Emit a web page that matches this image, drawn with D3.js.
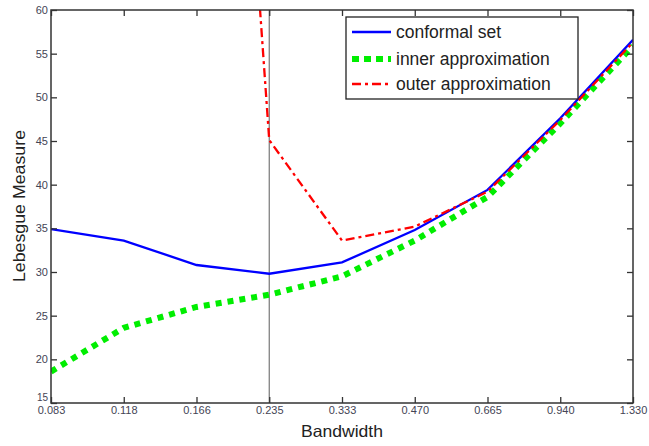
<!DOCTYPE html>
<html><head><meta charset="utf-8">
<script src="https://cdn.jsdelivr.net/npm/d3@7"></script>
<style>body{margin:0;background:#fff}svg{display:block}</style>
</head><body>
<svg id="c" width="649" height="446"></svg>
<script>
const bandwidth = ["0.083","0.118","0.166","0.235","0.333","0.470","0.665","0.940","1.330"];
const conformalSet = [34.9, 33.6, 30.8, 29.8, 31.1, 34.8, 39.4, 47.6, 56.6];
const innerApprox = [18.6, 23.6, 26.0, 27.4, 29.5, 33.6, 38.6, 47.0, 55.9];
const outerApprox = [null, null, 163, 45.1, 33.6, 35.2, 39.2, 47.4, 56.3];
const yTicks = [15,20,25,30,35,40,45,50,55,60];
const markedBandwidth = "0.235";
const seriesNames = ["conformal set","inner approximation","outer approximation"];

const svg = d3.select("#c");
const m = {l:51, r:16, t:10, b:43};
const W = 649, H = 446;
const x = d3.scalePoint().domain(bandwidth).range([m.l, W - m.r]);
const y = d3.scaleLinear().domain([15, 60]).range([H - m.b, m.t]);

svg.append("defs").append("clipPath").attr("id","clip")
  .append("rect").attr("x", m.l).attr("y", m.t)
  .attr("width", W - m.r - m.l).attr("height", H - m.b - m.t);

const font = "Arial, 'Liberation Sans', sans-serif";
const axisColor = "#333";
const tickLen = 6;

// vertical marker line
svg.append("line").attr("x1", x(markedBandwidth)).attr("x2", x(markedBandwidth))
  .attr("y1", m.t).attr("y2", H - m.b).attr("stroke", "#777").attr("stroke-width", 1.2);

const g = svg.append("g").attr("clip-path","url(#clip)");
const line = d3.line().defined(d => d[1] != null)
  .x(d => x(d[0])).y(d => y(d[1]));
const zip = arr => bandwidth.map((b,i) => [b, arr[i]]);

g.append("path").datum(zip(innerApprox)).attr("d", line)
  .attr("fill","none").attr("stroke","#00ee00").attr("stroke-width",6)
  .attr("stroke-dasharray","6,6");
g.append("path").datum(zip(conformalSet)).attr("d", line)
  .attr("fill","none").attr("stroke","#0000ff").attr("stroke-width",2.3);
g.append("path").datum(zip(outerApprox)).attr("d", line)
  .attr("fill","none").attr("stroke","#ff0000").attr("stroke-width",2.3)
  .attr("stroke-dasharray","9,4,3,4");

// box
svg.append("rect").attr("x", m.l).attr("y", m.t)
  .attr("width", W - m.r - m.l).attr("height", H - m.b - m.t)
  .attr("fill","none").attr("stroke", axisColor).attr("stroke-width", 1.5);

// axes with inward ticks
const xb = svg.append("g").attr("transform", `translate(0,${H - m.b})`)
  .call(d3.axisBottom(x).tickSize(-tickLen).tickPadding(10));
const xt = svg.append("g").attr("transform", `translate(0,${m.t})`)
  .call(d3.axisTop(x).tickSize(-tickLen).tickFormat(""));
const yl = svg.append("g").attr("transform", `translate(${m.l},0)`)
  .call(d3.axisLeft(y).tickValues(yTicks).tickSize(-tickLen).tickPadding(3));
const yr = svg.append("g").attr("transform", `translate(${W - m.r},0)`)
  .call(d3.axisRight(y).tickValues(yTicks).tickSize(-tickLen).tickFormat(""));
[xb, xt, yl, yr].forEach(a => {
  a.select(".domain").remove();
  a.selectAll(".tick line").attr("stroke", axisColor).attr("stroke-width", 1.3);
  a.selectAll("text").attr("fill", "#445").style("font-family", font).style("font-size", "11px");
});
xb.selectAll("text").attr("dy", "0.05em");
yl.selectAll("text").attr("dy", d => d === 15 ? "-0.25em" : "0.32em")
  .style("font-size", d => d === 15 ? "10px" : "11px");

// axis titles
svg.append("text").attr("x", 342).attr("y", 437)
  .attr("text-anchor","middle").style("font-family", font).style("font-size","16.5px")
  .attr("textLength", 82).attr("lengthAdjust","spacingAndGlyphs")
  .attr("fill","#222").text("Bandwidth");
svg.append("text").attr("transform", `translate(25,206) rotate(-90)`)
  .attr("text-anchor","middle").style("font-family", font).style("font-size","16.5px")
  .attr("textLength", 152).attr("lengthAdjust","spacingAndGlyphs")
  .attr("fill","#222").text("Lebesgue Measure");

// legend
const lg = svg.append("g");
lg.append("rect").attr("x", 346).attr("y", 17).attr("width", 232).attr("height", 82)
  .attr("fill","#fff").attr("stroke", "#222").attr("stroke-width", 1.3);
const legStyles = [
  {c:"#0000ff", w:2.3, d:null},
  {c:"#00ee00", w:6, d:"7,5"},
  {c:"#ff0000", w:2.3, d:"9,4,3,4"}
];
const legY = [32, 59, 84];
seriesNames.forEach((n, i) => {
  const s = legStyles[i];
  const ln = lg.append("line").attr("x1", 352).attr("x2", 391)
    .attr("y1", legY[i]).attr("y2", legY[i]).attr("stroke", s.c).attr("stroke-width", s.w);
  if (s.d) ln.attr("stroke-dasharray", s.d);
  lg.append("text").attr("x", 396).attr("y", legY[i]).attr("dy","0.35em")
    .style("font-family", font).style("font-size","17.5px").attr("fill","#222").text(n);
});
</script>
</body></html>
